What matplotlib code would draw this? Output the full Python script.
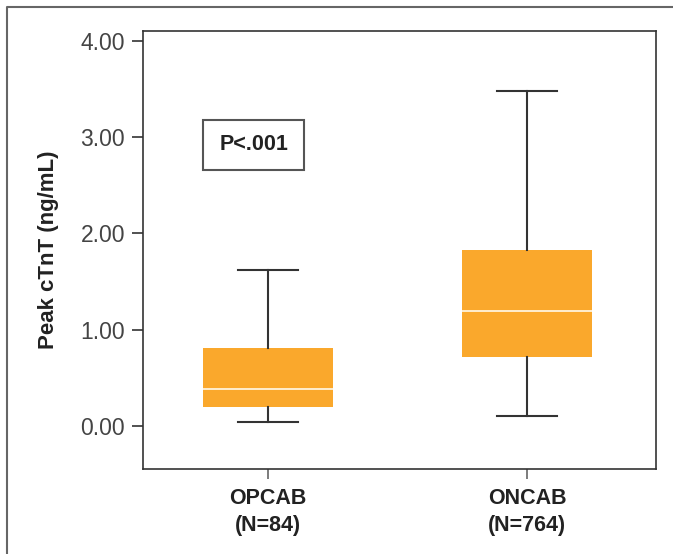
import matplotlib.pyplot as plt
from matplotlib.patches import Rectangle
from matplotlib.lines import Line2D

# Peak cTnT by group (ng/mL)
groups = ['OPCAB\n(N=84)', 'ONCAB\n(N=764)']
whis_lo = [0.04, 0.10]
q1 = [0.20, 0.72]
median = [0.385, 1.19]
q3 = [0.81, 1.83]
whis_hi = [1.62, 3.48]
yticks = [0.0, 1.0, 2.0, 3.0, 4.0]

box_color = '#FAA82C'
dark = '#333333'

plt.rcParams['font.family'] = ['Liberation Sans', 'DejaVu Sans']

fig = plt.figure(figsize=(6.73, 5.54), dpi=100)
ax = fig.add_axes([143/673, 1 - 469/554, (656-143)/673, (469-31)/554])

stats = []
for i in range(len(groups)):
    stats.append({'med': median[i], 'q1': q1[i], 'q3': q3[i],
                  'whislo': whis_lo[i], 'whishi': whis_hi[i], 'fliers': []})

ax.bxp(stats, positions=[1, 2], widths=0.5, capwidths=0.23, patch_artist=True,
       showfliers=False,
       boxprops=dict(facecolor=box_color, edgecolor=box_color, linewidth=0),
       medianprops=dict(color='#FFF3DC', linewidth=1.3),
       whiskerprops=dict(color=dark, linewidth=1.5),
       capprops=dict(color=dark, linewidth=1.5))

ax.set_xlim(0.517, 2.498)
ax.set_ylim(-0.447, 4.104)
ax.set_yticks(yticks)
ax.set_yticklabels(['%.2f' % v for v in yticks], fontsize=16.5, color='#444444')
ax.set_xticks([1, 2])
ax.set_xticklabels(groups, fontsize=15.5, fontweight='bold', color='#222222',
                   linespacing=1.35)
ax.tick_params(axis='y', direction='out', length=8, width=1.2, color=dark, pad=5)
ax.tick_params(axis='x', direction='out', length=7, width=1.2, color='#666666', pad=7)
ax.set_ylabel('Peak cTnT (ng/mL)', fontsize=16, fontweight='bold', color='#222222',
              labelpad=15)
for s in ax.spines.values():
    s.set_color(dark)
    s.set_linewidth(1.2)

# p-value box
ax.add_patch(Rectangle((0.749, 2.66), 0.39, 0.52, facecolor='white',
                       edgecolor='#555555', linewidth=1.5, zorder=3))
ax.text(0.944, 2.92, 'P<.001', fontsize=15.5, fontweight='bold', color='#222222',
        ha='center', va='center', zorder=4)

# outer frame (only top and left edges visible)
fx = 7/673
fy = 1 - 7/554
fig.add_artist(Line2D([fx, fx, 1.0], [0.0, fy, fy], transform=fig.transFigure,
                      color='#666666', linewidth=1.5))

fig.savefig('out.png', dpi=100)
